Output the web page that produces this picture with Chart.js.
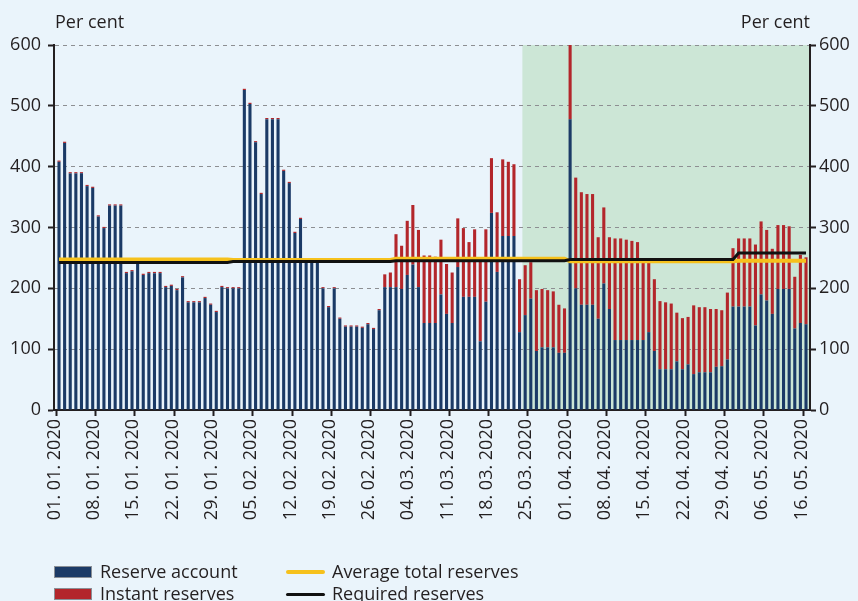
<!DOCTYPE html>
<html>
<head>
<meta charset="utf-8">
<script src="https://cdn.jsdelivr.net/npm/chart.js@4.4.1/dist/chart.umd.min.js"></script>
<style>
  html, body { margin: 0; padding: 0; background: #eaf4fb; }
  #wrap { position: relative; width: 858px; height: 601px; overflow: hidden;
          font-family: "Open Sans", sans-serif; color: #231f20; }
  #c { position: absolute; left: 0; top: 0; }
  .lg-text { position: absolute; font-size: 18px; line-height: 22px; white-space: nowrap; }
  .lg-sw { position: absolute; box-sizing: border-box; }
</style>
</head>
<body>
<div id="wrap">
  <canvas id="c" width="858" height="601"></canvas>
  <div id="legend"></div>
</div>
<script>
// ---------- DATA ----------
const categories = [
  '01.01.','02.01.','03.01.','04.01.','05.01.','06.01.','07.01.','08.01.','09.01.','10.01.',
  '11.01.','12.01.','13.01.','14.01.','15.01.','16.01.','17.01.','18.01.','19.01.','20.01.',
  '21.01.','22.01.','23.01.','24.01.','25.01.','26.01.','27.01.','28.01.','29.01.','30.01.','31.01.',
  '01.02.','02.02.','03.02.','04.02.','05.02.','06.02.','07.02.','08.02.','09.02.','10.02.',
  '11.02.','12.02.','13.02.','14.02.','15.02.','16.02.','17.02.','18.02.','19.02.','20.02.',
  '21.02.','22.02.','23.02.','24.02.','25.02.','26.02.','27.02.','28.02.','29.02.',
  '01.03.','02.03.','03.03.','04.03.','05.03.','06.03.','07.03.','08.03.','09.03.','10.03.',
  '11.03.','12.03.','13.03.','14.03.','15.03.','16.03.','17.03.','18.03.','19.03.','20.03.',
  '21.03.','22.03.','23.03.','24.03.','25.03.','26.03.','27.03.','28.03.','29.03.','30.03.','31.03.',
  '01.04.','02.04.','03.04.','04.04.','05.04.','06.04.','07.04.','08.04.','09.04.','10.04.',
  '11.04.','12.04.','13.04.','14.04.','15.04.','16.04.','17.04.','18.04.','19.04.','20.04.',
  '21.04.','22.04.','23.04.','24.04.','25.04.','26.04.','27.04.','28.04.','29.04.','30.04.',
  '01.05.','02.05.','03.05.','04.05.','05.05.','06.05.','07.05.','08.05.','09.05.','10.05.',
  '11.05.','12.05.','13.05.'
];

const tickLabels = [
  '01. 01. 2020','08. 01. 2020','15. 01. 2020','22. 01. 2020','29. 01. 2020',
  '05. 02. 2020','12. 02. 2020','19. 02. 2020','26. 02. 2020','04. 03. 2020',
  '11. 03. 2020','18. 03. 2020','25. 03. 2020','01. 04. 2020','08. 04. 2020',
  '15. 04. 2020','22. 04. 2020','29. 04. 2020','06. 05. 2020','16. 05. 2020'
];
const tickEvery = 7;

const reserveAccount = [
  408,439,389,389,389,368,365,318,299,336,336,336,
  225,228,241,222,225,225,225,202,204,197,218,177,177,177,184,173,161,202,200,200,200,
  526,503,440,355,478,478,478,393,373,291,314,242,242,242,200,169,200,150,137,137,137,135,141,133,164,
  202,202,202,199,222,239,202,143,143,143,190,158,143,235,186,186,186,113,178,324,227,286,286,286,
  128,156,183,97,103,103,103,94,94,
  478,200,173,173,173,150,208,166,115,115,115,115,115,115,128,97,67,67,67,80,67,75,59,62,62,62,71,72,83,170,
  170,170,170,139,190,180,158,199,199,199,134,143,141
];

const instantReserves = [
  2,2,2,2,2,2,2,2,2,2,2,2,
  2,2,2,2,2,2,2,2,2,2,2,2,2,2,2,2,2,2,2,2,2,
  2,2,2,2,2,2,2,2,2,2,2,2,2,2,2,2,2,2,2,2,2,2,2,2,2,
  21,24,87,71,89,98,94,111,111,109,90,82,83,80,113,90,111,134,119,90,98,126,122,118,
  87,82,60,100,96,94,92,79,73,
  122,182,185,182,182,134,125,118,167,167,165,163,161,131,115,118,112,110,108,80,84,78,113,107,107,104,95,92,110,96,
  112,112,112,133,120,116,107,105,105,103,85,112,110
];

const averageDates  = ['01.01.','31.01.','01.02.','29.02.','01.03.','31.03.','01.04.','30.04.','01.05.','13.05.'];
const averageValues = [247.5, 247.5, 246.5, 246.5, 248.5, 248.5, 244.5, 244.5, 245.5, 245.5];

const requiredDates  = ['01.01.','31.01.','01.02.','29.02.','01.03.','31.03.','01.04.','30.04.','01.05.','13.05.'];
const requiredValues = [242.5, 242.5, 244, 244, 245.5, 245.5, 247.5, 247.5, 258, 258];

const shadeFrom = '24.03.';
const yMin = 0, yMax = 600, yStep = 100;

// extra empty space at both ends of the category axis (in category widths)
const xPadStart = 0.39, xPadEnd = 0.21;

// ---------- STYLE ----------
const TEXT = '#231f20';
const NAVY = '#1b3a66';
const RED = '#b3262b';
const YELLOW = '#f6c11c';
const BLACK = '#111111';
const GREEN = '#cce6d6';
const GRID = '#8d8f92';
const FONT = { family: "'Open Sans', sans-serif", size: 18 };

Chart.defaults.font.family = FONT.family;
Chart.defaults.font.size = FONT.size;
Chart.defaults.color = TEXT;

const axisPad = {
  id: 'axisPad',
  afterLayout(chart) {
    const x = chart.scales.x;
    x._startValue = x.min - 0.5 - xPadStart;
    x._valueRange = (x.max - x.min + 1) + xPadStart + xPadEnd;
  }
};

const decor = {
  id: 'decor',
  beforeDraw(chart) {
    const { ctx, chartArea: a, scales: { x } } = chart;
    const i = categories.indexOf(shadeFrom);
    const half = (x.getPixelForValue(1) - x.getPixelForValue(0)) / 2;
    const x0 = x.getPixelForValue(i) - half;
    ctx.save();
    ctx.fillStyle = GREEN;
    ctx.fillRect(x0, a.top, a.right - x0, a.bottom - a.top);
    ctx.restore();
  },
  afterDraw(chart) {
    const { ctx, chartArea: a } = chart;
    ctx.save();
    ctx.fillStyle = TEXT;
    ctx.font = `${FONT.size}px ${FONT.family}`;
    ctx.textBaseline = 'middle';
    ctx.textAlign = 'left';
    ctx.fillText('Per cent', a.left + 1, a.top - 22);
    ctx.textAlign = 'right';
    ctx.fillText('Per cent', a.right, a.top - 22);
    ctx.restore();
  }
};

const toPoints = (dates, vals) => dates.map((d, i) => ({ x: d, y: vals[i] }));

const chart = new Chart(document.getElementById('c'), {
  data: {
    labels: categories,
    datasets: [
      { type: 'bar', label: 'Reserve account', data: reserveAccount, backgroundColor: NAVY,
        stack: 'reserves', order: 2, barPercentage: 0.55, categoryPercentage: 1, borderWidth: 0 },
      { type: 'bar', label: 'Instant reserves', data: instantReserves, backgroundColor: RED,
        stack: 'reserves', order: 2, barPercentage: 0.55, categoryPercentage: 1, borderWidth: 0 },
      { type: 'line', label: 'Average total reserves', data: toPoints(averageDates, averageValues),
        borderColor: YELLOW, backgroundColor: YELLOW, borderWidth: 4, pointRadius: 0, tension: 0,
        stack: 'avg', order: 1 },
      { type: 'line', label: 'Required reserves', data: toPoints(requiredDates, requiredValues),
        borderColor: BLACK, backgroundColor: BLACK, borderWidth: 3, pointRadius: 0, tension: 0,
        stack: 'req', order: 0 }
    ]
  },
  options: {
    responsive: false,
    animation: false,
    devicePixelRatio: 1,
    layout: { padding: { top: 45, bottom: 56, left: 0, right: 0 } },
    plugins: { legend: { display: false }, tooltip: { enabled: false } },
    scales: {
      x: {
        type: 'category', offset: true, stacked: true,
        grid: { display: true, drawOnChartArea: false, offset: true, drawTicks: true,
                tickLength: 6, tickWidth: 2, color: 'rgba(0,0,0,0)',
                tickColor: c => (c.index % tickEvery === 0 && c.index < categories.length) ? TEXT : 'rgba(0,0,0,0)' },
        border: { display: true, color: TEXT, width: 2 },
        ticks: { autoSkip: false, minRotation: 90, maxRotation: 90, padding: 3, labelOffset: -4.5,
                 color: TEXT, font: FONT,
                 callback: (v, i) => (i % tickEvery === 0 ? tickLabels[i / tickEvery] : '') },
        afterFit: s => { s.height = 135; }
      },
      y: {
        position: 'left', stacked: true, min: yMin, max: yMax,
        ticks: { stepSize: yStep, padding: 7, color: TEXT, font: FONT },
        grid: { drawOnChartArea: true, color: c => (c.tick && c.tick.value === 0) ? 'rgba(0,0,0,0)' : GRID,
                lineWidth: 1, tickColor: TEXT, tickLength: 6, tickWidth: 2 },
        border: { display: true, color: TEXT, width: 2, dash: [4, 4] },
        afterFit: s => { s.width = 54; }
      },
      y2: {
        position: 'right', min: yMin, max: yMax,
        ticks: { stepSize: yStep, padding: 3, color: TEXT, font: FONT },
        grid: { drawOnChartArea: false, tickColor: TEXT, tickLength: 6, tickWidth: 2 },
        border: { display: true, color: TEXT, width: 2 },
        afterFit: s => { s.width = 48; }
      }
    }
  },
  plugins: [axisPad, decor]
});

// ---------- HTML legend built from the chart's datasets ----------
(function buildLegend() {
  const host = document.getElementById('legend');
  const ds = chart.data.datasets;
  const cols = [54, 286];
  const rows = [572, 594];
  const layout = [[0, 0, 0], [1, 0, 1], [2, 1, 0], [3, 1, 1]]; // [dataset, col, row]
  layout.forEach(([di, ci, ri]) => {
    const d = ds[di];
    const sw = document.createElement('div');
    sw.className = 'lg-sw';
    const x = cols[ci], cy = rows[ri];
    if (d.type === 'bar') {
      sw.style.left = x + 'px'; sw.style.top = (cy - 6) + 'px';
      sw.style.width = '38px'; sw.style.height = '12px';
      sw.style.background = d.backgroundColor;
      sw.style.border = '1px solid #8a8f96';
    } else {
      const h = d.borderWidth;
      sw.style.left = x + 'px'; sw.style.top = (cy - h / 2) + 'px';
      sw.style.width = '39px'; sw.style.height = h + 'px';
      sw.style.background = d.borderColor;
      sw.style.borderRadius = (h / 2) + 'px';
    }
    host.appendChild(sw);
    const t = document.createElement('div');
    t.className = 'lg-text';
    t.textContent = d.label;
    t.style.left = (x + 46) + 'px';
    t.style.top = (cy - 12) + 'px';
    host.appendChild(t);
  });
})();
</script>
</body>
</html>
